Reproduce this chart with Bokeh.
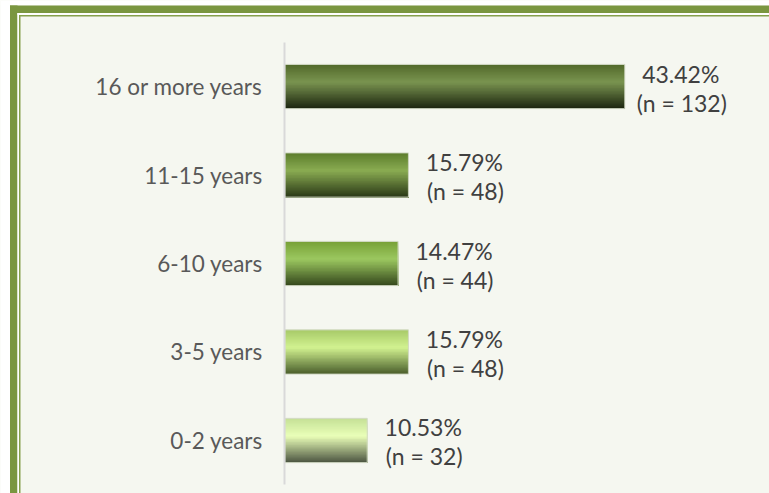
from bokeh.plotting import figure
from bokeh.models import Range1d, FixedTicker, BoxAnnotation, ColumnDataSource
from bokeh.embed import file_html
from bokeh.resources import INLINE
from bokeh.core.properties import value

# ---- data (bottom to top) ----
categories = ["0-2 years", "3-5 years", "6-10 years", "11-15 years", "16 or more years"]
percents = [10.53, 15.79, 14.47, 15.79, 43.42]
counts = [32, 48, 44, 48, 132]

# gradient stops per bar: top, highlight, bottom
top_colors = ["#c4e096", "#a6c968", "#76a036", "#5c7c2c", "#51692a"]
mid_colors = ["#eaffb8", "#d2f290", "#9cc860", "#8aac52", "#7a9450"]
bot_colors = ["#4a5340", "#485c2a", "#33461b", "#293716", "#1b240f"]

BG = "#f5f7f0"
GREEN = "#7a9640"
FONT = value("Lato")
W, H = 769, 493


def hex2rgb(h):
    h = h.lstrip("#")
    return tuple(int(h[i:i + 2], 16) for i in (0, 2, 4))


def mix(c1, c2, t):
    a, b = hex2rgb(c1), hex2rgb(c2)
    return "#%02x%02x%02x" % tuple(int(round(a[k] + (b[k] - a[k]) * t)) for k in range(3))


ys = list(range(len(categories)))
BAR_H = 0.5
N = 30
HI = 0.4  # relative position of highlight from top

# stacked gradient strips: strip k spans from its top edge down to the bar bottom
sx, sy, sh, sc = [], [], [], []
for i, (pv, y) in enumerate(zip(percents, ys)):
    bottom = y - BAR_H / 2
    for k in range(N):
        f0 = k / N
        fc = (k + 0.5) / N
        if fc < HI:
            col = mix(top_colors[i], mid_colors[i], fc / HI)
        else:
            col = mix(mid_colors[i], bot_colors[i], (fc - HI) / (1 - HI))
        top = y + BAR_H / 2 - f0 * BAR_H
        sx.append(pv)
        sy.append((top + bottom) / 2)
        sh.append(top - bottom)
        sc.append(col)

strips = ColumnDataSource(dict(right=sx, y=sy, height=sh, color=sc))
bars = ColumnDataSource(dict(
    right=percents, y=ys,
    pct=["%.2f%%" % v for v in percents],
    n=["(n = %d)" % c for c in counts],
))

p = figure(width=W, height=H, output_backend="svg", toolbar_location=None,
           x_range=Range1d(-36.3, 61.9), y_range=Range1d(-0.599, 4.972),
           min_border=0, min_border_left=0, min_border_right=0,
           min_border_top=0, min_border_bottom=0)
p.background_fill_color = BG
p.border_fill_color = BG
p.outline_line_color = None
p.grid.visible = False
p.xaxis.visible = False

p.hbar(y="y", left=0, right="right", height="height", fill_color="color",
       line_color=None, source=strips)
p.hbar(y="y", left=0, right="right", height=BAR_H, fill_color=None,
       line_color="#d3dac6", line_width=1, source=bars)

p.text(x="right", y="y", text="pct", source=bars, x_offset=56, y_offset=-13,
       text_align="center", text_baseline="middle", text_font=FONT,
       text_font_size="23px", text_color="#404040")
p.text(x="right", y="y", text="n", source=bars, x_offset=57, y_offset=16,
       text_align="center", text_baseline="middle", text_font=FONT,
       text_font_size="23px", text_color="#404040")

ax = p.yaxis[0]
ax.fixed_location = 0
ax.ticker = FixedTicker(ticks=ys)
ax.major_label_overrides = {y: c for y, c in zip(ys, categories)}
ax.bounds = (-0.5, 4.5)
ax.axis_line_color = "#d9d9d9"
ax.axis_line_width = 2
ax.major_tick_line_color = None
ax.minor_tick_line_color = None
ax.major_label_standoff = 16
ax.major_label_text_font = "Lato"
ax.major_label_text_font_size = "22.5px"
ax.major_label_text_color = "#595959"


# decorative frame (canvas pixels)
def box(l, r, t, b, color):
    p.add_layout(BoxAnnotation(left=l, right=r, top=t, bottom=b,
                               left_units="canvas", right_units="canvas",
                               top_units="canvas", bottom_units="canvas",
                               fill_color=color, fill_alpha=1.0, line_color=None,
                               level="overlay"))


box(0, 9.5, 0, H, "#ffffff")
box(0, W, 0, 5, "#ffffff")
box(9.5, 17, 5, H, GREEN)
box(9.5, W, 5, 12.5, GREEN)
box(17, 18.5, 12.5, H, "#ffffff")
box(17, W, 12.5, 14.5, "#ffffff")
box(18.5, 20, 14.5, H, "#86a04c")
box(18.5, W, 14.5, 16, "#86a04c")

open("out.html", "w").write(file_html(p, INLINE))
